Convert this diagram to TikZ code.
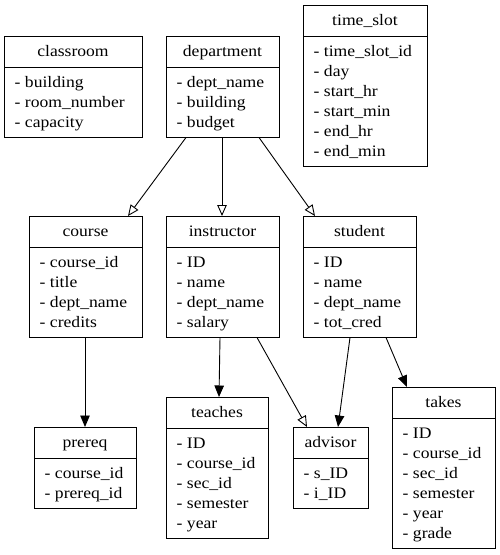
\documentclass[tikz,border=0pt]{standalone}
\usepackage{fontspec}
\setmainfont{Liberation Serif}
\usetikzlibrary{arrows.meta}
\tikzset{
  tbl/.style={draw, line width=1pt, rectangle, inner sep=0pt, outer sep=0pt},
  tblline/.style={line width=1pt},
  hdr/.style={inner sep=0pt, anchor=base, font=\fontsize{16}{20}\selectfont},
  attr/.style={inner sep=0pt, anchor=base west, font=\fontsize{16}{20}\selectfont},
  inh/.style={line width=0.9pt, -{Triangle[open, length=11pt, width=9.5pt, line width=0.9pt]}},
  rel/.style={line width=0.9pt, -{Triangle[length=11.5pt, width=9.5pt]}}
}
\newcommand\wide[1]{\scalebox{1.1}[1]{#1}}
\newcommand\erbox[7]{%
  \node[tbl, minimum width=#4pt, minimum height={31pt+#6*20pt+10.5pt}, anchor=north west] (#1) at (#2,#3) {};
  \draw[tblline] ([yshift=-31pt]#1.north west) -- ([yshift=-31pt]#1.north east);
  \node[hdr] (#1-title) at ([yshift=-20.5pt]#1.north) {\wide{#5}};
  \foreach \a [count=\i] in {#7}
    \node[attr] (#1-\i) at ([xshift=10.5pt, yshift={-31pt-20.5pt-(\i-1)*20pt}]#1.north west) {\wide{- \a}};
}
\begin{document}
\begin{tikzpicture}[x=1pt, y=-1pt]
\useasboundingbox (0,0) rectangle (500,555);
\erbox{classroom}{4}{36}{138}{classroom}{3}{building, room\_number, capacity}
\erbox{department}{166}{36}{113}{department}{3}{dept\_name, building, budget}
\erbox{timeslot}{303}{5}{124}{time\_slot}{6}{time\_slot\_id, day, start\_hr, start\_min, end\_hr, end\_min}
\erbox{course}{29}{216}{113}{course}{4}{course\_id, title, dept\_name, credits}
\erbox{instructor}{166}{216}{113}{instructor}{4}{ID, name, dept\_name, salary}
\erbox{student}{303}{216}{113}{student}{4}{ID, name, dept\_name, tot\_cred}
\erbox{prereq}{34}{427}{102}{prereq}{2}{course\_id, prereq\_id}
\erbox{teaches}{166}{397}{102}{teaches}{5}{ID, course\_id, sec\_id, semester, year}
\erbox{advisor}{293}{427}{75}{advisor}{2}{s\_ID, i\_ID}
\erbox{takes}{392}{387}{103}{takes}{6}{ID, course\_id, sec\_id, semester, year, grade}
\draw[inh] ([xshift=20pt]department.south west) -- ([xshift=99pt]course.north west);
\draw[inh] ([xshift=56pt]department.south west) -- ([xshift=56pt]instructor.north west);
\draw[inh] ([xshift=93pt]department.south west) -- ([xshift=12pt]student.north west);
\draw[rel] ([xshift=56pt]course.south west) -- ([xshift=51pt]prereq.north west);
\draw[rel] ([xshift=54pt]instructor.south west) -- ([xshift=53pt]teaches.north west);
\draw[inh] ([xshift=91pt]instructor.south west) -- ([xshift=14pt]advisor.north west);
\draw[rel] ([xshift=47pt]student.south west) -- ([xshift=45pt]advisor.north west);
\draw[rel] ([xshift=83pt]student.south west) -- ([xshift=15pt]takes.north west);
\end{tikzpicture}
\end{document}
